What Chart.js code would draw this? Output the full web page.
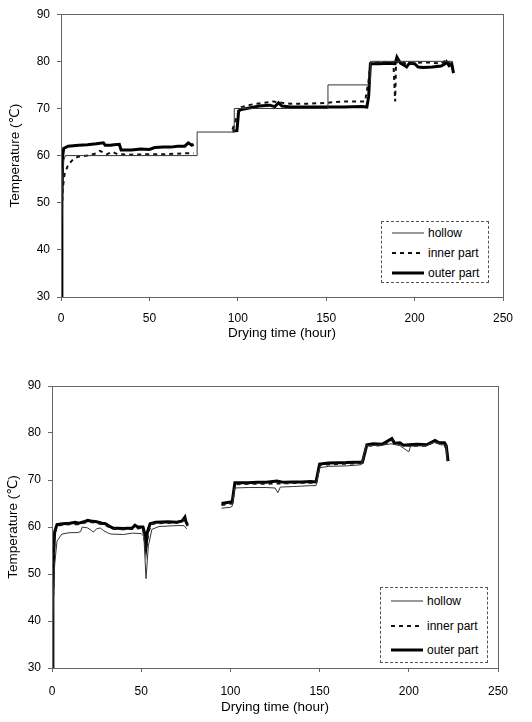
<!DOCTYPE html>
<html>
<head>
<meta charset="utf-8">
<script src="https://cdn.jsdelivr.net/npm/chart.js@4.4.1/dist/chart.umd.min.js"></script>
<style>
  html, body { margin: 0; padding: 0; background: #fff; }
  body { width: 532px; height: 722px; position: relative; overflow: hidden;
         font-family: 'Liberation Sans', Arial, 'DejaVu Sans', sans-serif; }
  .box { position: absolute; left: 0; width: 532px; }
  .legend { position: absolute; border: 1px dashed #555; background: #fff; font-size: 12px; color: #000; box-sizing: border-box; }
  .row { position: absolute; left: 10px; height: 14px; display: flex; align-items: center; white-space: nowrap; }
  .row svg { width: 32px; height: 6px; margin-right: 4px; }
</style>
</head>
<body>
<div class="box" style="top:0;height:345px"><canvas id="top"></canvas></div>
<div class="box" style="top:370px;height:352px"><canvas id="bottom"></canvas></div>

<div class="legend" style="left:381px;top:221px;width:108px;height:62px">
  <div class="row" style="top:4px"><svg><line x1="0" y1="3" x2="32" y2="3" stroke="#333" stroke-width="1"/></svg>hollow</div>
  <div class="row" style="top:24px"><svg><line x1="0" y1="3" x2="32" y2="3" stroke="#111" stroke-width="2" stroke-dasharray="4 4"/></svg>inner part</div>
  <div class="row" style="top:44px"><svg><line x1="0" y1="3" x2="32" y2="3" stroke="#000" stroke-width="3"/></svg>outer part</div>
</div>
<div class="legend" style="left:380px;top:587px;width:108px;height:76px">
  <div class="row" style="top:6px"><svg><line x1="0" y1="3" x2="32" y2="3" stroke="#333" stroke-width="1"/></svg>hollow</div>
  <div class="row" style="top:31px"><svg><line x1="0" y1="3" x2="32" y2="3" stroke="#111" stroke-width="2" stroke-dasharray="4 4"/></svg>inner part</div>
  <div class="row" style="top:55px"><svg><line x1="0" y1="3" x2="32" y2="3" stroke="#000" stroke-width="3"/></svg>outer part</div>
</div>

<script>
// [hour, temperature] pairs; null = no record
const topHollow = [
  [0, 30], [0.3, 45], [0.8, 55], [1.5, 59], [2.5, 60], [77, 60], [77, 65], [98, 65], [98, 70],
  [151, 70], [151, 75], [175, 75], [175, 80], [221, 80], [221.5, 79.5],
];
const topInner = [
  [0, 30], [0.5, 48], [1, 53], [2, 56], [4, 58], [7, 59.3], [10, 59.8], [15, 60], [20, 60.5], [22, 61],
  [26, 60.3], [29, 60.8], [32, 60.3], [40, 60.2], [50, 60.3], [60, 60.3], [70, 60.5], [75, 60.5], [75.5, null],
  [97, 65.5], [100.5, 69.5], [102, 70.3], [105, 70.6], [110, 71], [115, 71.2], [120, 71.5], [125, 71.2],
  [130, 71], [140, 71], [150, 71.2], [160, 71.5], [172, 71.5], [174, 76], [175, 79.5], [180, 79.8],
  [188, 79.8], [189, 71.5], [189.5, 79.5], [191, 80.3], [195, 79.5], [200, 79.6], [205, 79.8], [210, 79.7],
  [215, 79.5], [218, 80.3], [220, 79.5], [221, 78.5],
];
const topOuter = [
  [0, 30], [0.5, 50], [1, 60], [1.5, 61.5], [4, 62], [10, 62.2], [15, 62.3], [20, 62.5], [24, 62.7], [25, 62.2],
  [28, 62.2], [30, 62.3], [33, 62.4], [34, 61.2], [40, 61.2], [45, 61.4], [50, 61.3], [53, 61.7], [58, 61.8],
  [62, 61.8], [66, 62], [70, 62], [72, 62.7], [74, 62.2], [75, 62.4], [75.5, null],
  [97, 65.2], [99.5, 65.3], [100.5, 69.5], [102, 69.8], [105, 70], [108, 70.2], [112, 70.5], [118, 70.7],
  [121, 70.4], [123, 71.2], [125, 70.5], [130, 70.3], [140, 70.3], [150, 70.3], [160, 70.3], [170, 70.4],
  [173, 70.3], [174, 72.5], [175, 79.5], [180, 79.5], [185, 79.6], [189, 79.5], [190, 80.9], [192, 79.6],
  [194, 79.2], [195.5, 78.8], [197, 79.6], [200, 79.5], [202, 78.8], [205, 78.7], [210, 78.8], [215, 79],
  [217, 79.4], [218, 79.9], [219.5, 79.1], [221, 79.5], [222, 77.5],
];

const botHollow = [
  [0, 30], [0.5, 40], [1, 48], [1.5, 52], [2.8, 57], [5.5, 58.5], [10, 58.8], [14, 58.8], [16, 59], [17, 60],
  [20, 59.8], [22, 59.3], [23, 58.9], [25, 59.6], [27, 59.8], [29, 59.2], [31, 58.8], [33, 58.5], [40, 58.4],
  [45, 58.7], [50, 58.6], [51.5, 58], [52.7, 49], [54, 56], [56, 59.5], [60, 60.1], [65, 60.2], [70, 60.3],
  [74, 60.3], [75.5, 59.6], [76, null],
  [95, 64], [100, 64.2], [101, 64.4], [102.5, 68.3], [110, 68.4], [120, 68.4], [125, 68.3], [126.6, 67.3],
  [128, 68.5], [135, 68.6], [140, 68.7], [145, 68.8], [148, 68.8], [150, 72.6], [155, 72.9], [165, 73],
  [172, 73.2], [173.5, 73.3], [176, 77.3], [185, 77.4], [190, 77.7], [195, 77.3], [200, 76], [201, 77.2],
  [210, 77.3], [214, 78], [218, 77.5], [221, 77.4], [221.5, 74],
];
const botInner = [
  [0, 30], [0.5, 43], [1, 53], [1.5, 58.5], [2.8, 60.2], [6, 60.5], [10, 60.6], [15, 60.6], [20, 61.1],
  [25, 60.9], [30, 60.4], [34, 59.6], [40, 59.5], [45, 59.6], [51, 59.8], [52.7, 55], [54, 59], [56, 60.7],
  [65, 60.9], [70, 60.9], [74.5, 61.7], [76, 60.2], [76.5, null],
  [95, 64.7], [101, 65], [102.5, 69.1], [110, 69.2], [120, 69.2], [130, 69.3], [140, 69.4], [148, 69.4],
  [150, 73.2], [160, 73.4], [174, 73.6], [176.5, 77.3], [185, 77.4], [190.5, 78.5], [195, 77.6], [200, 77.3],
  [210, 77.3], [214.7, 78.2], [220, 77.7], [222, 75],
];
const botOuter = [
  [0, 30], [0.5, 45], [1, 55], [1.5, 59], [2.8, 60.5], [6, 60.7], [10, 60.8], [13, 61], [15, 60.8],
  [18.5, 61.2], [20, 61.4], [23, 61.2], [25, 61.1], [28, 60.8], [30, 60.7], [32, 60.2], [34, 59.8], [40, 59.7],
  [45, 59.8], [46.5, 60.4], [48, 60], [51, 60], [52, 58.5], [52.7, 56], [53.5, 59], [55, 60.7], [58, 61],
  [65, 61.1], [70, 61], [73, 61.3], [74.5, 62.1], [75, 61.2], [76, 60.4], [76.5, null],
  [95, 65], [100, 65.3], [101, 65.3], [102.5, 69.4], [110, 69.4], [115, 69.5], [120, 69.5], [126, 69.8],
  [130, 69.5], [135, 69.6], [140, 69.6], [145, 69.7], [148, 69.6], [150, 73.4], [155, 73.6], [165, 73.7],
  [170, 73.8], [174, 73.8], [176.5, 77.5], [180, 77.7], [185, 77.6], [190.5, 78.8], [192, 77.8], [195, 77.9],
  [197, 77.4], [200, 77.5], [205, 77.6], [210, 77.5], [214.7, 78.4], [217, 77.9], [220, 77.9], [221, 77.3],
  [222, 74],
];

const xTicks = [0, 50, 100, 150, 200, 250];
const yTicks = [30, 40, 50, 60, 70, 80, 90];

const FONT = "'Liberation Sans', Arial, 'DejaVu Sans', sans-serif";

const frame = {
  id: 'frame',
  afterDraw(chart) {
    const { ctx, chartArea: a } = chart;
    ctx.save();
    ctx.strokeStyle = '#666';
    ctx.lineWidth = 1;
    ctx.strokeRect(Math.round(a.left) + 0.5, Math.round(a.top) + 0.5, Math.round(a.right - a.left), Math.round(a.bottom - a.top));
    ctx.restore();
  },
};

function toXY(pairs) {
  return pairs.map(([x, y]) => ({ x, y }));
}

function makeChart(id, series, L) {
  const styles = [
    { borderColor: '#333', borderWidth: 1 },
    { borderColor: '#111', borderWidth: 2, borderDash: [4, 4] },
    { borderColor: '#000', borderWidth: 3 },
  ];
  return new Chart(document.getElementById(id), {
    type: 'line',
    data: {
      datasets: series.map((s, i) => ({
        data: toXY(s),
        ...styles[i],
        pointRadius: 0,
        tension: 0,
        spanGaps: false,
        fill: false,
      })),
    },
    options: {
      responsive: true,
      maintainAspectRatio: false,
      animation: false,
      layout: { padding: { top: L.top, right: L.right, left: 0, bottom: 0 } },
      plugins: { legend: { display: false }, tooltip: { enabled: false } },
      scales: {
        x: {
          type: 'linear',
          min: 0,
          max: 250,
          afterBuildTicks: (s) => { s.ticks = xTicks.map((v) => ({ value: v })); },
          afterFit: (s) => { s.height = L.xh; },
          grid: { drawOnChartArea: false, tickLength: 4, color: '#666' },
          border: { display: false },
          ticks: { color: '#000', padding: L.xpad, maxRotation: 0, font: { family: FONT, size: 12 } },
          title: { display: true, text: 'Drying time (hour)', color: '#000', padding: { top: 0, bottom: L.xtp }, font: { family: FONT, size: 13.5 } },
        },
        y: {
          min: 30,
          max: 90,
          afterBuildTicks: (s) => { s.ticks = yTicks.map((v) => ({ value: v })); },
          afterFit: (s) => { s.width = L.yw; },
          grid: { drawOnChartArea: false, tickLength: 4, color: '#666' },
          border: { display: false },
          ticks: { color: '#000', padding: 7, font: { family: FONT, size: 12 } },
          title: { display: true, text: 'Temperature (℃)', color: '#000', padding: { top: L.ytp, bottom: 0 }, font: { family: FONT, size: 13.5 } },
        },
      },
    },
    plugins: [frame],
  });
}

makeChart('top', [topHollow, topInner, topOuter], { top: 9, right: 29, xh: 48, yw: 61, xpad: 10, xtp: 4, ytp: 7 });
makeChart('bottom', [botHollow, botInner, botOuter], { top: 16, right: 34, xh: 54, yw: 52, xpad: 12, xtp: 7, ytp: 5 });
</script>
</body>
</html>
